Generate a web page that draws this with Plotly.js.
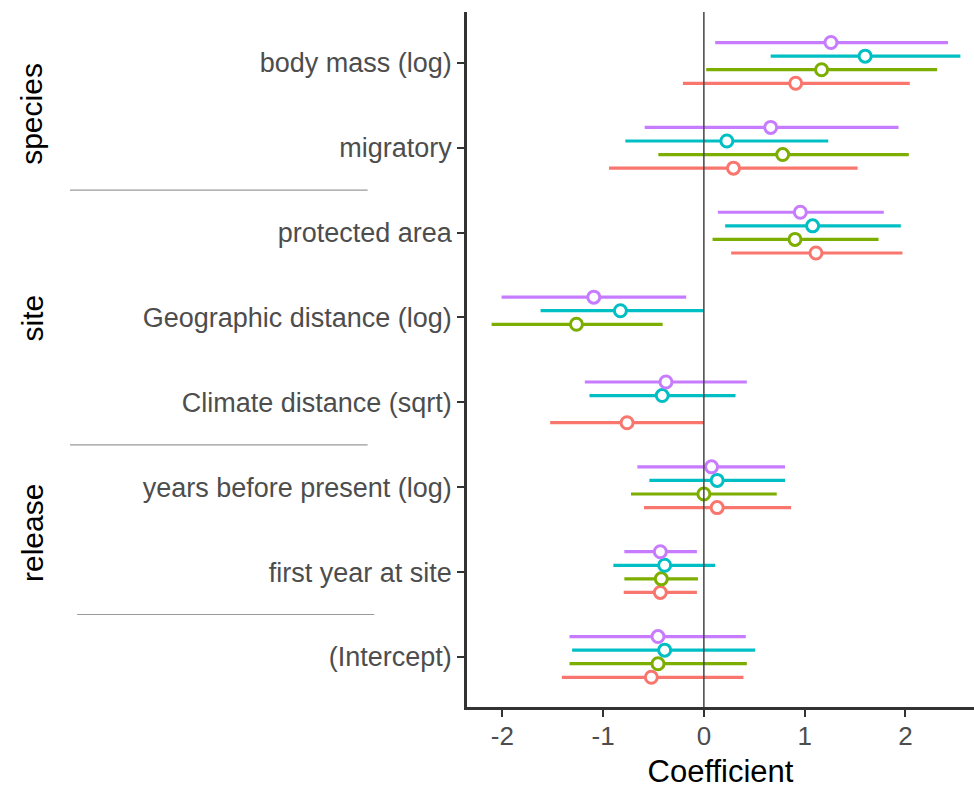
<!DOCTYPE html>
<html>
<head>
<meta charset="utf-8">
<script src="https://cdn.plot.ly/plotly-3.0.1.min.js"></script>
<style>html,body{margin:0;padding:0;background:#fff;}#chart{width:974px;height:794px;}</style>
</head>
<body>
<div id="chart"></div>
<script>
// ---------- data ----------
const terms = ['body mass (log)', 'migratory', 'protected area', 'Geographic distance (log)',
  'Climate distance (sqrt)', 'years before present (log)', 'first year at site', '(Intercept)'];

const xTicks = [-2, -1, 0, 1, 2];

// model 1 (red)
const m1_est = [0.911, 0.294, 1.112, null, -0.762, 0.132, -0.432, -0.521];
const m1_lo  = [-0.208, -0.941, 0.271, null, -1.525, -0.594, -0.795, -1.409];
const m1_hi  = [2.043, 1.525, 1.970, null, 0.0, 0.865, -0.069, 0.393];
// model 2 (green)
const m2_est = [1.168, 0.782, 0.904, -1.264, null, 0.0, -0.422, -0.455];
const m2_lo  = [0.023, -0.452, 0.086, -2.106, null, -0.723, -0.789, -1.333];
const m2_hi  = [2.314, 2.033, 1.733, -0.409, null, 0.723, -0.059, 0.426];
// model 3 (cyan)
const m3_est = [1.600, 0.228, 1.079, -0.828, -0.413, 0.132, -0.389, -0.389];
const m3_lo  = [0.663, -0.779, 0.211, -1.620, -1.135, -0.541, -0.898, -1.307];
const m3_hi  = [2.545, 1.234, 1.954, 0.0, 0.314, 0.805, 0.112, 0.508];
// model 4 (purple)
const m4_est = [1.261, 0.663, 0.957, -1.092, -0.376, 0.076, -0.432, -0.455];
const m4_lo  = [0.112, -0.587, 0.139, -2.007, -1.181, -0.660, -0.789, -1.333];
const m4_hi  = [2.422, 1.931, 1.785, -0.175, 0.426, 0.805, -0.069, 0.416];

const groupNames = ['species', 'site', 'release'];
const groupCenters = [0.6, 3.0, 5.54];
const groupBreaks = [1.5, 4.5, 6.5];

// ---------- styling ----------
const FONT = 'Liberation Sans, Arial, Helvetica, sans-serif';
const series = [
  {name: 'model 1', est: m1_est, lo: m1_lo, hi: m1_hi, color: '#F8766D', dodge: 0.24},
  {name: 'model 2', est: m2_est, lo: m2_lo, hi: m2_hi, color: '#7CAE00', dodge: 0.08},
  {name: 'model 3', est: m3_est, lo: m3_lo, hi: m3_hi, color: '#00BFC4', dodge: -0.08},
  {name: 'model 4', est: m4_est, lo: m4_lo, hi: m4_hi, color: '#C77CFF', dodge: -0.24}
];

const traces = series.map(s => ({
  type: 'scatter',
  mode: 'markers',
  name: s.name,
  x: s.est,
  y: terms.map((t, i) => i + s.dodge),
  error_x: {
    type: 'data', symmetric: false,
    array: s.est.map((v, i) => v === null ? null : s.hi[i] - v),
    arrayminus: s.est.map((v, i) => v === null ? null : v - s.lo[i]),
    color: s.color, thickness: 3.2, width: 0
  },
  marker: {symbol: 'circle', size: 12, color: '#ffffff', line: {color: s.color, width: 3}},
  hoverinfo: 'x+name'
}));

const shapes = [
  {type: 'line', xref: 'x', yref: 'paper', x0: 0, x1: 0, y0: 0, y1: 1,
   line: {color: '#444', width: 1.5}, layer: 'above'}
];
const sepX = [[-0.783, -0.196], [-0.783, -0.196], [-0.769, -0.183]];
groupBreaks.forEach((b, k) => shapes.push({
  type: 'line', xref: 'paper', yref: 'y', x0: sepX[k][0], x1: sepX[k][1], y0: b, y1: b,
  line: {color: '#9a9a9a', width: 1.2}
}));

const annotations = groupNames.map((g, k) => ({
  text: g, xref: 'paper', yref: 'y', x: -0.858, y: groupCenters[k],
  textangle: -90, showarrow: false, xanchor: 'center', yanchor: 'middle',
  font: {family: FONT, size: 30, color: '#000'}
}));

const layout = {
  width: 974, height: 794,
  margin: {l: 467, r: 0, t: 12, b: 87, pad: 0},
  paper_bgcolor: '#fff', plot_bgcolor: '#fff',
  showlegend: false,
  font: {family: FONT},
  xaxis: {
    range: [-2.35, 2.68], tickvals: xTicks, ticktext: xTicks.map(String),
    showgrid: false, zeroline: false,
    showline: true, linecolor: '#333', linewidth: 2.8,
    ticks: 'outside', ticklen: 7, tickwidth: 2, tickcolor: '#333',
    ticklabelstandoff: -3,
    tickfont: {family: FONT, size: 26, color: '#4D4D4D'},
    title: {text: 'Coefficient', font: {family: FONT, size: 31, color: '#000'}, standoff: 11},
    automargin: false
  },
  yaxis: {
    range: [7.59, -0.6], tickvals: terms.map((t, i) => i), ticktext: terms,
    showgrid: false, zeroline: false,
    showline: true, linecolor: '#333', linewidth: 2.8,
    ticks: 'outside', ticklen: 7, tickwidth: 2, tickcolor: '#333',
    tickfont: {family: FONT, size: 27, color: '#4D4D4D'},
    automargin: false
  },
  shapes: shapes,
  annotations: annotations
};

Plotly.newPlot('chart', traces, layout, {displayModeBar: false, staticPlot: true});
</script>
</body>
</html>
